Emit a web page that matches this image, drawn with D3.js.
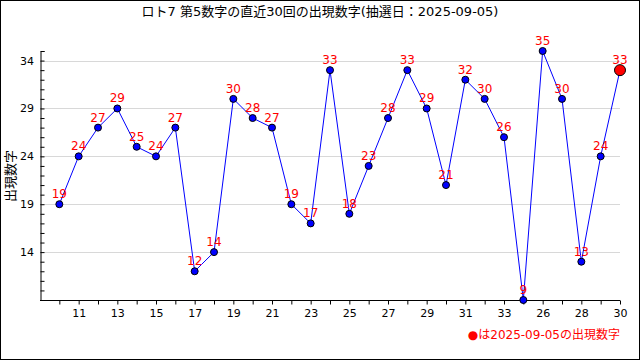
<!DOCTYPE html>
<html><head><meta charset="utf-8">
<script src="https://cdn.jsdelivr.net/npm/d3@7"></script>
<style>body{margin:0;background:#fff}svg{display:block}</style>
</head><body>
<script>
const titleText = "ロト7 第5数字の直近30回の出現数字(抽選日：2025-09-05)";
const yLabel = "出現数字";
const legendText = "●は2025-09-05の出現数字";
const categories = ["10","11","12","13","14","15","16","17","18","19","20","21","22","23","24","25","26","27","28","29","30","31","32","33","25","26","27","28","29","30"];
const values = [19,24,27,29,25,24,27,12,14,30,28,27,19,17,33,18,23,28,33,29,21,32,30,26,9,35,30,13,24,33];
const yMajorTicks = [14,19,24,29,34];

const W = 640, H = 360;
const svg = d3.select("body").append("svg").attr("width", W).attr("height", H);
const font = "'DejaVu Sans', 'Noto Sans CJK JP', sans-serif";

svg.append("rect").attr("x",0.5).attr("y",0.5).attr("width",W-1).attr("height",H-1)
  .attr("fill","#fff").attr("stroke","#000");

const x = d3.scaleLinear().domain([-1, values.length-1]).range([40, 620]);
const y = d3.scaleLinear().domain([9, 35]).range([300, 51]);

// grid
svg.append("g").selectAll("line").data(yMajorTicks).join("line")
  .attr("x1", 40).attr("x2", 620).attr("y1", d=>Math.round(y(d))+0.5).attr("y2", d=>Math.round(y(d))+0.5)
  .attr("stroke","#d8d8d8");

// y axis
const yAxis = d3.axisRight(y).tickValues(d3.range(9,36)).tickSize(4).tickFormat("");
const gy = svg.append("g").attr("transform","translate(40.5,0)").call(yAxis);
gy.select(".domain").attr("stroke","#000");
gy.selectAll(".tick line").attr("stroke","#000");
svg.append("g").selectAll("text").data(yMajorTicks).join("text")
  .attr("x", 34).attr("y", d=>y(d)+4).attr("text-anchor","end")
  .attr("font-family", font).attr("font-size", 11).text(d=>d);

// x axis
const xAxis = d3.axisBottom(x).tickValues(d3.range(0, values.length)).tickSize(4)
  .tickFormat(i => i % 2 === 1 ? categories[i] : "");
const gx = svg.append("g").attr("transform","translate(0,300.5)").call(xAxis);
gx.select(".domain").attr("stroke","#000").attr("d","M40,0H620");
gx.selectAll(".tick line").attr("stroke","#000");
gx.selectAll(".tick text").attr("font-family", font).attr("font-size", 11).attr("fill","#000").attr("dy","0.9em");

// line
const line = d3.line().x((d,i)=>x(i)).y(d=>y(d));
svg.append("path").datum(values).attr("d", line).attr("fill","none").attr("stroke","#0000ff").attr("stroke-width",1);

// points
svg.append("g").selectAll("circle").data(values).join("circle")
  .attr("cx",(d,i)=>x(i)).attr("cy",d=>y(d))
  .attr("r",(d,i)=> i===values.length-1 ? 5.5 : 3.5)
  .attr("fill",(d,i)=> i===values.length-1 ? "#ff0000" : "#0000ff")
  .attr("stroke","#000").attr("stroke-width",1);

// value labels
svg.append("g").selectAll("text").data(values).join("text")
  .attr("x",(d,i)=>x(i)).attr("y",d=>y(d)-6).attr("text-anchor","middle")
  .attr("font-family", font).attr("font-size", 12).attr("fill","#ff0000").text(d=>d);

// title
svg.append("text").attr("x",320).attr("y",16).attr("text-anchor","middle")
  .attr("font-family", font).attr("font-size",13).text(titleText);

// y label
svg.append("text").attr("transform","translate(15,176) rotate(-90)").attr("text-anchor","middle")
  .attr("font-family", font).attr("font-size",13).text(yLabel);

// legend
svg.append("text").attr("x",620).attr("y",339).attr("text-anchor","end")
  .attr("font-family", font).attr("font-size",12).attr("fill","#ff0000").text(legendText);
</script>
</body></html>
